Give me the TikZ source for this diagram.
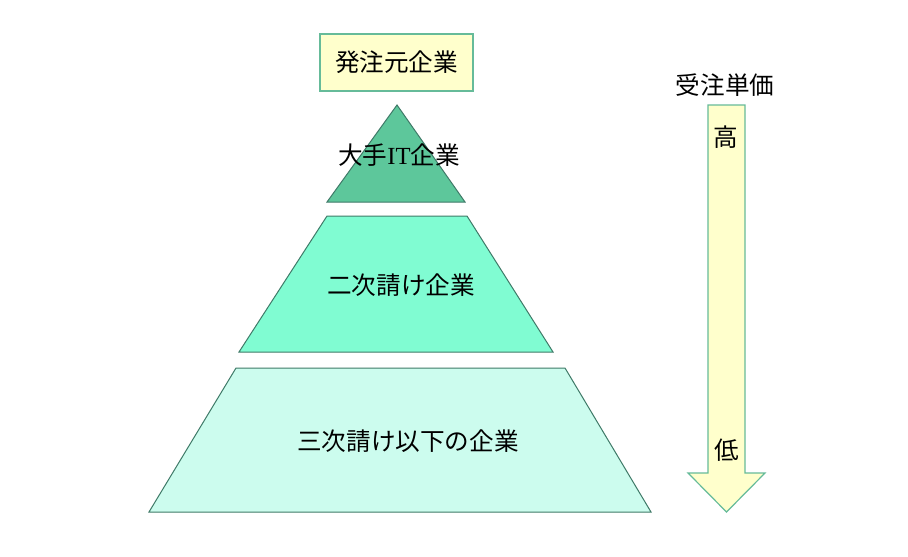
\documentclass[tikz,border=0pt]{standalone}
\usepackage{fontspec}
\setmainfont{Noto Sans CJK JP}
\newfontfamily\latinserif{Liberation Serif}
\definecolor{boxyellow}{HTML}{FFFFCC}
\definecolor{edgegreen}{HTML}{66BB99}
\definecolor{edgedark}{HTML}{3F7A68}
\definecolor{topgreen}{HTML}{5DC79B}
\definecolor{midgreen}{HTML}{80FCD2}
\definecolor{lowgreen}{HTML}{CCFCEE}

\begin{document}
\begin{tikzpicture}[x=0.5pt, y=-0.5pt, font=\fontsize{12.3}{14}\selectfont,
		layer/.style={draw=edgedark, line width=0.5pt}]
			\fill[white] (0,0) rectangle (908,556);
			% pyramid
			\draw[layer, fill=topgreen] (397,105) -- (465,202) -- (327,202) -- cycle;
			\draw[layer, fill=midgreen] (327,216) -- (467,216) -- (553,352) -- (239,352) -- cycle;
			\draw[layer, fill=lowgreen] (236,368) -- (565,368) -- (651,512) -- (149,512) -- cycle;
			\node (n1) at (399,155) {大手{\latinserif IT}企業};
			\node (n2) at (401,285) {二次請け企業};
			\node (n3) at (408,441) {三次請け以下の企業};
			\node[draw=edgegreen, fill=boxyellow, line width=0.6pt, minimum width=76.5pt, minimum height=28.5pt] (n0) at (396.5,62.5) {発注元企業};
			% price arrow
			\draw[draw=edgegreen, fill=boxyellow, line width=0.6pt] (708,105) -- (745,105) -- (745,473) -- (765,473) -- (726.5,512) -- (688,473) -- (708,473) -- cycle;
			\node (price) at (725,85) {受注単価};
			\node (high) at (726,137) {高};
			\node (low) at (727,450) {低};
		\end{tikzpicture}
\end{document}
